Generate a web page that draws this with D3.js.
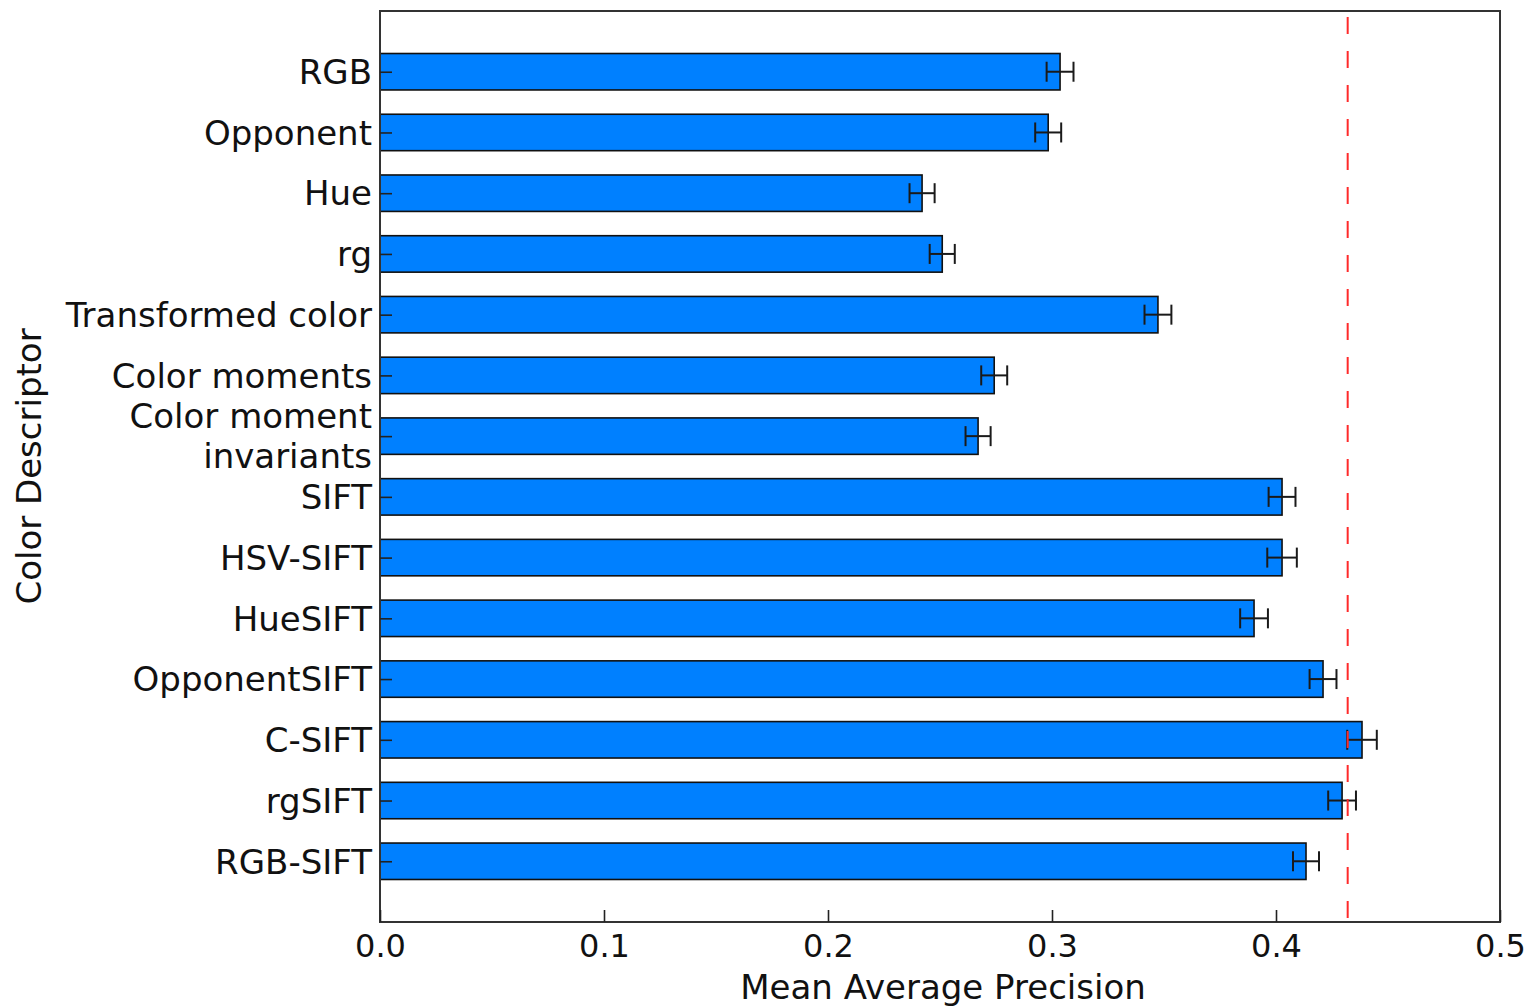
<!DOCTYPE html>
<html>
<head>
<meta charset="utf-8">
<script src="https://cdn.jsdelivr.net/npm/d3@7"></script>
<style>
  html, body { margin: 0; padding: 0; background: #fff; }
  svg { display: block; font-family: "DejaVu Sans", sans-serif; }
</style>
</head>
<body>
<svg id="chart" width="1530" height="1007"></svg>
<script>
// Color descriptors, top to bottom
const descriptors = [
  "RGB", "Opponent", "Hue", "rg", "Transformed color", "Color moments",
  "Color moment\ninvariants", "SIFT", "HSV-SIFT", "HueSIFT",
  "OpponentSIFT", "C-SIFT", "rgSIFT", "RGB-SIFT"
];
// Mean average precision per descriptor
const mapValues = [
  0.3036, 0.2983, 0.2420, 0.2510, 0.3473, 0.2742,
  0.2670, 0.4027, 0.4027, 0.3902, 0.4210, 0.4384, 0.4295, 0.4134
];
// Half-width of the error bar (standard deviation)
const mapErrors = [
  0.0060, 0.0058, 0.0056, 0.0056, 0.0060, 0.0058,
  0.0056, 0.0060, 0.0066, 0.0062, 0.0060, 0.0066, 0.0062, 0.0058
];
// Reference level drawn as a dashed line
const referenceLevel = 0.432;
const xTicks = [0.0, 0.1, 0.2, 0.3, 0.4, 0.5];

const svg = d3.select("#chart");
const plot = { left: 380, right: 1500, top: 11, bottom: 922 };

const x = d3.scaleLinear().domain([0, 0.5]).range([plot.left, plot.right]);
// Bar positions 0..13, with one unit of padding at each end
const y = d3.scaleLinear().domain([-1, descriptors.length]).range([plot.top, plot.bottom]);
const barHeight = 0.6;

const g = svg.append("g");

// Bars
g.selectAll("rect.bar")
  .data(descriptors)
  .join("rect")
  .attr("class", "bar")
  .attr("x", x(0))
  .attr("y", (d, i) => y(i - barHeight / 2))
  .attr("width", (d, i) => x(mapValues[i]) - x(0))
  .attr("height", y(barHeight) - y(0))
  .attr("fill", "#0080ff")
  .attr("stroke", "#111")
  .attr("stroke-width", 1.6);

// Error bars
const capHalf = 10;
const err = g.selectAll("g.err")
  .data(descriptors)
  .join("g")
  .attr("class", "err")
  .attr("stroke", "#1a1a1a")
  .attr("stroke-width", 2);
err.append("line")
  .attr("x1", (d, i) => x(mapValues[i] - mapErrors[i]))
  .attr("x2", (d, i) => x(mapValues[i] + mapErrors[i]))
  .attr("y1", (d, i) => y(i))
  .attr("y2", (d, i) => y(i));
err.append("line")
  .attr("x1", (d, i) => x(mapValues[i] - mapErrors[i]))
  .attr("x2", (d, i) => x(mapValues[i] - mapErrors[i]))
  .attr("y1", (d, i) => y(i) - capHalf)
  .attr("y2", (d, i) => y(i) + capHalf);
err.append("line")
  .attr("x1", (d, i) => x(mapValues[i] + mapErrors[i]))
  .attr("x2", (d, i) => x(mapValues[i] + mapErrors[i]))
  .attr("y1", (d, i) => y(i) - capHalf)
  .attr("y2", (d, i) => y(i) + capHalf);

// Dashed reference line
g.append("line")
  .attr("x1", x(referenceLevel)).attr("x2", x(referenceLevel))
  .attr("y1", plot.top).attr("y2", plot.bottom)
  .attr("stroke", "#ff2a2a")
  .attr("stroke-width", 2)
  .attr("stroke-dasharray", "17,17")
  .attr("stroke-dashoffset", -6);

// Frame
svg.append("rect")
  .attr("x", plot.left).attr("y", plot.top)
  .attr("width", plot.right - plot.left)
  .attr("height", plot.bottom - plot.top)
  .attr("fill", "none")
  .attr("stroke", "#333")
  .attr("stroke-width", 2);

// X axis: inward ticks
const xAxis = d3.axisBottom(x)
  .tickValues(xTicks)
  .tickFormat(d3.format(".1f"))
  .tickSizeInner(-12)
  .tickSizeOuter(0)
  .tickPadding(12);
const xg = svg.append("g")
  .attr("transform", `translate(0,${plot.bottom})`)
  .call(xAxis);
xg.select(".domain").remove();
xg.selectAll(".tick line").attr("stroke", "#222").attr("stroke-width", 1.6);
xg.selectAll(".tick text")
  .attr("fill", "#111")
  .attr("font-size", 32)
  .attr("font-family", "DejaVu Sans, sans-serif");

// Y axis: inward ticks at bar centres
const yAxis = d3.axisLeft(y)
  .tickValues(d3.range(descriptors.length))
  .tickFormat(() => "")
  .tickSizeInner(-12)
  .tickSizeOuter(0);
const yg = svg.append("g")
  .attr("transform", `translate(${plot.left},0)`)
  .call(yAxis);
yg.select(".domain").remove();
yg.selectAll(".tick line").attr("stroke", "#222").attr("stroke-width", 1.6);

// Multi-line category labels
const lineGap = 40;
descriptors.forEach((label, i) => {
  const lines = label.split("\n");
  const t = svg.append("text")
    .attr("text-anchor", "end")
    .attr("font-size", 34)
    .attr("fill", "#111");
  lines.forEach((ln, k) => {
    const offset = (k - (lines.length - 1) / 2) * lineGap;
    t.append("tspan")
      .attr("x", plot.left - 8)
      .attr("y", y(i) + offset)
      .attr("dy", "0.36em")
      .text(ln);
  });
});

// Axis titles
svg.append("text")
  .attr("x", (plot.left + plot.right) / 2 + 3)
  .attr("y", 999)
  .attr("text-anchor", "middle")
  .attr("font-size", 34)
  .attr("fill", "#111")
  .text("Mean Average Precision");

svg.append("text")
  .attr("transform", `translate(41,${(plot.top + plot.bottom) / 2}) rotate(-90)`)
  .attr("text-anchor", "middle")
  .attr("font-size", 34)
  .attr("fill", "#111")
  .text("Color Descriptor");
</script>
</body>
</html>
